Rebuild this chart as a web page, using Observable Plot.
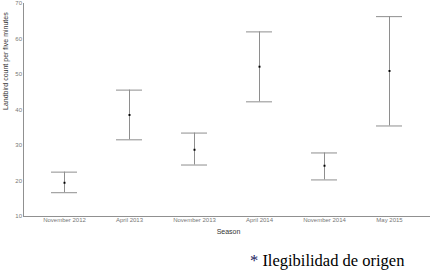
<!DOCTYPE html>
<html>
<head>
<meta charset="utf-8">
<script src="https://cdn.jsdelivr.net/npm/d3@7"></script>
<script src="https://cdn.jsdelivr.net/npm/@observablehq/plot@0.6"></script>
<style>
  html, body { margin: 0; padding: 0; background: #fff; }
  body { position: relative; width: 431px; height: 272px; overflow: hidden; }
  #caption { position: absolute; left: 250px; top: 253px; font-family: "Liberation Serif", "Times New Roman", serif; font-size: 16.5px; line-height: 16px; color: #000; white-space: nowrap; }
  #caption .ast { color: #1a1a5e; }
</style>
</head>
<body>
<div id="chart"></div>
<div id="caption"><span class="ast">*</span> Ilegibilidad de origen</div>
<script>
const seasons = ["November 2012", "April 2013", "November 2013", "April 2014", "November 2014", "May 2015"];
const means = [19.5, 38.6, 28.8, 52.2, 24.3, 51.0];
const lows = [16.7, 31.6, 24.5, 42.3, 20.3, 35.5];
const highs = [22.5, 45.6, 33.5, 62.0, 27.9, 66.3];
const yTicks = [10, 20, 30, 40, 50, 60, 70];
const xTitle = "Season";
const yTitle = "Landbird count per five minutes";

const data = seasons.map((s, i) => ({season: s, mean: means[i], lo: lows[i], hi: highs[i]}));

const barColor = "#8e8e8e";
const axisColor = "#909090";

const chart = Plot.plot({
  width: 431,
  height: 245,
  marginLeft: 23,
  marginRight: 1,
  marginTop: 3,
  marginBottom: 29,
  style: {fontFamily: "'Liberation Sans', Arial, sans-serif", background: "#fff"},
  x: {type: "band", domain: seasons, paddingInner: 0.6, paddingOuter: 0.4, axis: null},
  y: {domain: [10, 70], axis: null},
  marks: [
    Plot.frame({anchor: "left", stroke: axisColor}),
    Plot.ruleY([10], {stroke: axisColor}),
    Plot.axisY(yTicks, {tickSize: 0, tickPadding: 1.5, fontSize: 6, fill: "#777", label: null}),
    Plot.axisX(seasons, {tickSize: 0, tickPadding: 1.5, fontSize: 6, fill: "#777", label: null}),
    Plot.text([yTitle], {frameAnchor: "left", rotate: -90, dx: -18, fontSize: 7, fill: "#333"}),
    Plot.text([xTitle], {frameAnchor: "bottom", dy: 17, dx: 1.5, fontSize: 7, fill: "#333"}),
    Plot.ruleX(data, {x: "season", y1: "lo", y2: "hi", stroke: barColor, strokeWidth: 1}),
    Plot.tickY(data, {x: "season", y: "hi", stroke: barColor, strokeWidth: 1}),
    Plot.tickY(data, {x: "season", y: "lo", stroke: barColor, strokeWidth: 1}),
    Plot.dot(data, {x: "season", y: "mean", r: 1.1, symbol: "square", fill: "#000", stroke: null})
  ]
});
document.getElementById("chart").appendChild(chart);
</script>
</body>
</html>
